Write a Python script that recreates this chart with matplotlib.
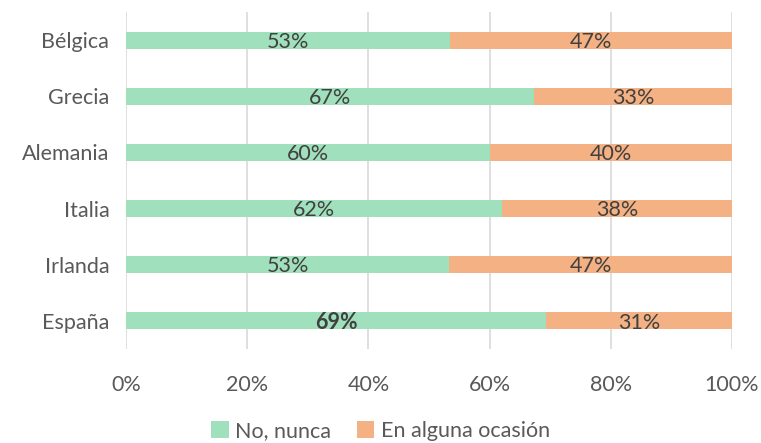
import matplotlib.pyplot as plt
import numpy as np

plt.rcParams['font.family'] = ['Lato', 'DejaVu Sans']

paises = ['Bélgica', 'Grecia', 'Alemania', 'Italia', 'Irlanda', 'España']
no_nunca = [53.4, 67.4, 60.0, 62.0, 53.3, 69.3]
alguna = [100 - v for v in no_nunca]
xticks = [0, 20, 40, 60, 80, 100]

verde = '#a0e0bc'
naranja = '#f4b183'
gris = '#595959'
fs = 15.5

fig = plt.figure(figsize=(7.61, 4.43), dpi=100)
ax = fig.add_axes([126/761, 1 - 349/443, 606/761, 337/443])

y = np.arange(len(paises))[::-1]
b1 = ax.barh(y, no_nunca, height=0.3, color=verde, label='No, nunca', zorder=2)
b2 = ax.barh(y, alguna, left=no_nunca, height=0.3, color=naranja,
             label='En alguna ocasión', zorder=2)

for i, (a, b) in enumerate(zip(no_nunca, alguna)):
    peso = 'bold' if paises[i] == 'España' else 'normal'
    ax.text(a / 2, y[i] - 0.03, f'{round(a)}%', ha='center', va='center',
            fontsize=fs, color='#404040', fontweight=peso, zorder=3)
    ax.text(a + b / 2, y[i] - 0.03, f'{round(b)}%', ha='center', va='center',
            fontsize=fs, color='#404040', zorder=3)

ax.set_xlim(0, 100)
ax.set_ylim(-0.5, len(paises) - 0.5)
ax.set_xticks(xticks)
ax.set_xticklabels([f'{t}%' for t in xticks])
ax.set_yticks(y)
ax.set_yticklabels(paises)
ax.tick_params(axis='both', length=0, labelsize=fs, colors=gris)
ax.tick_params(axis='x', pad=19)
ax.tick_params(axis='y', pad=12)
ax.grid(axis='x', color='#d9d9d9', linewidth=1.2, zorder=0)
for s in ax.spines.values():
    s.set_visible(False)

fig.legend(handles=[b1, b2], loc='center', bbox_to_anchor=(0.5, 1 - 431/443),
           ncol=2, frameon=False, fontsize=fs, handlelength=0.8,
           handleheight=0.8, handletextpad=0.3, columnspacing=1.2,
           labelcolor=gris)

fig.savefig('out.png', dpi=100)
